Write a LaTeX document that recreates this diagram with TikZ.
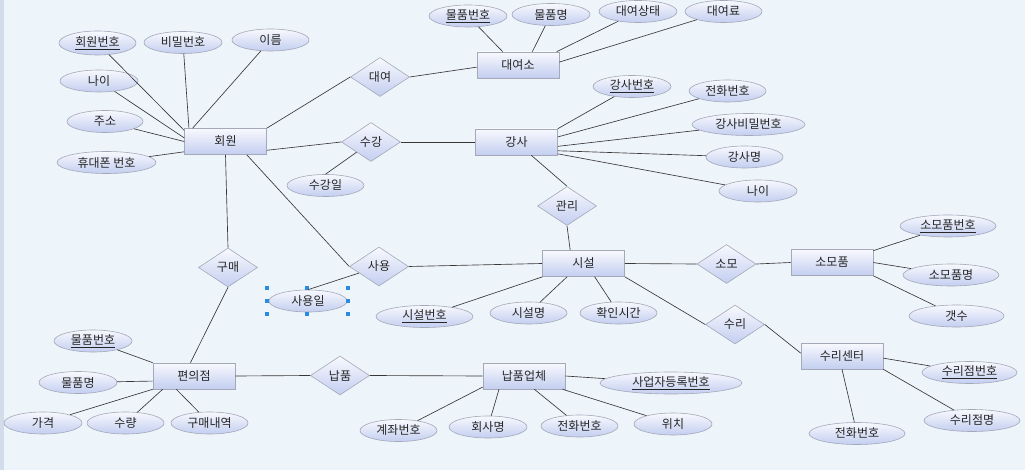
\documentclass[tikz,border=0pt]{standalone}
\usepackage{fontspec}
\newfontfamily\krfont{Noto Sans CJK KR}
\usetikzlibrary{shapes.geometric}
\definecolor{canvas}{HTML}{EDF4FA}
\definecolor{strip}{HTML}{D2DCEA}
\definecolor{nodetop}{HTML}{F8F9FE}
\definecolor{nodebot}{HTML}{C3CEF0}
\definecolor{nodeedge}{HTML}{A4A8B8}
\definecolor{linkcol}{HTML}{383838}
\definecolor{handlecol}{HTML}{2A8BE0}
\tikzset{
  base/.style={draw=nodeedge, line width=0.6pt, top color=nodetop, bottom color=nodebot,
    font=\krfont\fontsize{12}{12}\selectfont, text=black!85, inner sep=0pt},
  entity/.style={base, rectangle, minimum width=82pt, minimum height=26pt},
  rel/.style={base, diamond, minimum width=59pt, minimum height=39pt},
  attr/.style={base, ellipse, minimum width=#1, minimum height=22pt},
  attr/.default=77pt,
  link/.style={draw=linkcol, line width=0.65pt},
  handle/.style={fill=handlecol, minimum size=3.5pt, inner sep=0pt}
}
\begin{document}
\begin{tikzpicture}[x=1pt, y=-1pt]
% canvas
\fill[canvas] (0,0) rectangle (1025,470);
\fill[strip] (0,0) rectangle (3.5,470);
\useasboundingbox (0,0) rectangle (1025,470);

% entities
\node[entity] (mem)  at (225.5,141.5) {회원};
\node[entity] (rent) at (518,65)      {대여소};
\node[entity] (inst) at (516.5,142)   {강사};
\node[entity] (fac)  at (583.5,263.5) {시설};
\node[entity] (supp) at (832,262.5)   {소모품};
\node[entity] (rep)  at (842,356)     {수리센터};
\node[entity] (conv) at (194,376)     {편의점};
\node[entity] (vend) at (524,376)     {납품업체};

% relationships
\node[rel] (rrent) at (380,77)    {대여};
\node[rel] (rcls)  at (371,142)   {수강};
\node[rel] (rmgr)  at (567,206)   {관리};
\node[rel] (ruse)  at (379,266.5) {사용};
\node[rel] (rbuy)  at (228,267.5) {구매};
\node[rel] (rdel)  at (340,375.5) {납품};
\node[rel] (rcon)  at (726.5,264) {소모};
\node[rel] (rfix)  at (735,324.5) {수리};

% member attributes
\node[attr, minimum height=24pt] (a1) at (97.5,43) {\underline{회원번호}};
\node[attr=78pt] (a2) at (183,42.5)  {비밀번호};
\node[attr]      (a3) at (270.5,40)  {이름};
\node[attr=78pt] (a4) at (99,81)     {나이};
\node[attr=76pt] (a5) at (105,121.5) {주소};
\node[attr=99pt] (a6) at (106.5,162.5) {휴대폰 번호};
\node[attr]      (a7) at (325.5,185.5) {수강일};

% rental shop attributes
\node[attr=78pt] (b1) at (468,16)    {\underline{물품번호}};
\node[attr=78pt] (b2) at (551,14.5)  {물품명};
\node[attr=78pt] (b3) at (638,11.5)  {대여상태};
\node[attr]      (b4) at (723.5,11.5) {대여료};

% instructor attributes
\node[attr=78pt]  (c1) at (632,86.5)  {\underline{강사번호}};
\node[attr]       (c2) at (727.5,91)  {전화번호};
\node[attr=113pt] (c3) at (748.5,124.5) {강사비밀번호};
\node[attr]       (c4) at (744.5,157) {강사명};
\node[attr=78pt]  (c5) at (758,191)   {나이};

% facility attributes
\node[attr=97pt] (d1) at (424.5,316.5) {\underline{시설번호}};
\node[attr]      (d2) at (528.5,313)   {시설명};
\node[attr]      (d3) at (618.5,313)   {확인시간};
\node[attr=78pt] (d4) at (308,301)     {사용일};

% supplies attributes
\node[attr=96pt] (e1) at (948,226)   {\underline{소모품번호}};
\node[attr=96pt] (e2) at (951,275)   {소모품명};
\node[attr=95pt] (e3) at (956.5,316) {갯수};

% repair center attributes
\node[attr=95pt] (f1) at (969.5,372.5) {\underline{수리점번호}};
\node[attr=96pt] (f2) at (972,420.5)   {수리점명};
\node[attr=96pt] (f3) at (857,433.5)   {전화번호};

% convenience store attributes
\node[attr=78pt] (g1) at (93,341)    {\underline{물품번호}};
\node[attr=78pt] (g2) at (78,382.5)  {물품명};
\node[attr=78pt] (g3) at (43,423)    {가격};
\node[attr]      (g4) at (125.5,423) {수량};
\node[attr]      (g5) at (209.5,423) {구매내역};

% vendor attributes
\node[attr]       (h1) at (398.5,430.5) {계좌번호};
\node[attr=78pt]  (h2) at (488,427)     {회사명};
\node[attr]       (h3) at (579.5,426)   {전화번호};
\node[attr=78pt]  (h4) at (673,424)     {위치};
\node[attr=142pt] (h5) at (671,383)     {\underline{사업자등록번호}};

% selection handles around the usage-date attribute
\foreach \hx/\hy in {267/288, 307/288, 348/288, 267/301, 348/301, 267/314, 307/314, 348/314}
  \node[handle] at (\hx,\hy) {};

% connectors: member
\draw[link] (a1) -- (mem.165);
\draw[link] (a2) -- (mem.160);
\draw[link] (a3) -- (mem.158);
\draw[link] (a4) -- (mem.175);
\draw[link] (a5) -- (mem.west);
\draw[link] (a6) -- (mem.194);
\draw[link] (mem.north east) -- (rrent.west);
\draw[link] (mem.-12) -- (rcls.west);
\draw[link] (mem.south) -- (rbuy.north);
\draw[link] (mem.-32) -- (ruse.west);

% connectors: rental
\draw[link] (rrent.east) -- (rent.183);
\draw[link] (b1) -- (rent.139);
\draw[link] (b2) -- (rent.43);
\draw[link] (b3) -- (rent.19);
\draw[link] (b4) -- (rent.4);

% connectors: class
\draw[link] (rcls.east) -- (inst.west);
\draw[link] (rcls) -- (a7.north);
\draw[link] (c1) -- (inst.north east);
\draw[link] (c2) -- (inst.7);
\draw[link] (c3) -- (inst.354);
\draw[link] (c4) -- (inst.348);
\draw[link] (c5) -- (inst.344);
\draw[link] (inst.318) -- (rmgr.north);
\draw[link] (rmgr.south) -- (fac.135);

% connectors: facility
\draw[link] (ruse.east) -- (fac.west);
\draw[link] (ruse) -- (d4.north);
\draw[link] (d1) -- (fac.198);
\draw[link] (d2) -- (fac.219);
\draw[link] (d3) -- (fac.310);
\draw[link] (fac.east) -- (rcon.west);
\draw[link] (fac.south east) -- (rfix.west);

% connectors: supplies
\draw[link] (rcon.east) -- (supp.west);
\draw[link] (e1) -- (supp.16);
\draw[link] (e2) -- (supp.east);
\draw[link] (e3) -- (supp.south east);

% connectors: repair center
\draw[link] (rfix.east) -- (rep.176);
\draw[link] (f1) -- (rep.357);
\draw[link] (f2) -- (rep.south east);
\draw[link] (f3) -- (rep.south);

% connectors: convenience store
\draw[link] (rbuy.south) -- (conv.105);
\draw[link] (g1) -- (conv.north west);
\draw[link] (g2) -- (conv.187);
\draw[link] (g3) -- (conv.south west);
\draw[link] (g4) -- (conv.203);
\draw[link] (g5) -- (conv.217);
\draw[link] (conv.east) -- (rdel.west);

% connectors: vendor
\draw[link] (rdel.east) -- (vend.west);
\draw[link] (h1) -- (vend.195);
\draw[link] (h2) -- (vend.208);
\draw[link] (h3) -- (vend.308);
\draw[link] (h4) -- (vend.341);
\draw[link] (h5) -- (vend.east);
\end{tikzpicture}
\end{document}
